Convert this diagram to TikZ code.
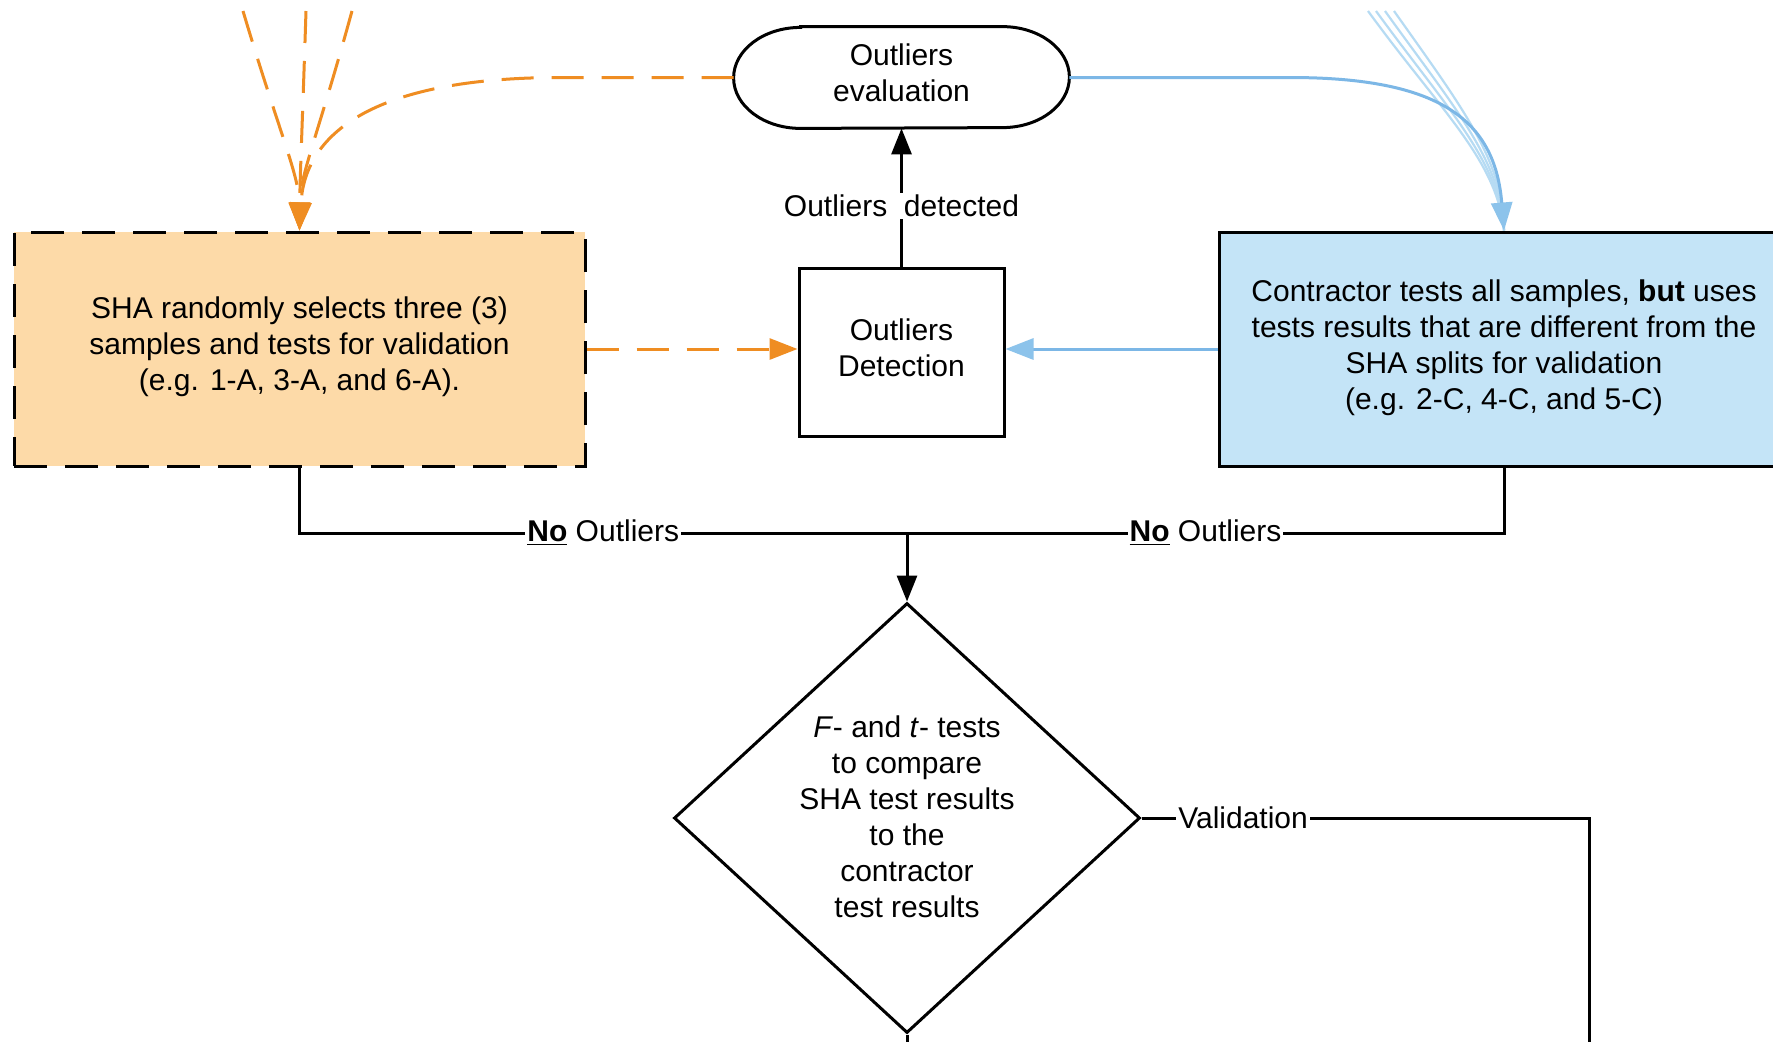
\documentclass[tikz,border=0pt]{standalone}
\usepackage{fontspec}
\setmainfont{Liberation Sans}
\usetikzlibrary{arrows.meta,shapes.geometric,calc}
\definecolor{orline}{RGB}{239,141,34}
\definecolor{orfill}{RGB}{253,218,168}
\definecolor{blfill}{RGB}{196,228,247}
\definecolor{blline}{RGB}{124,183,230}
\definecolor{bltip}{RGB}{140,195,235}
\definecolor{bllight}{RGB}{182,219,243}
\begin{document}
\begin{tikzpicture}[x=0.5pt,y=-0.5pt,
  font=\fontsize{15pt}{18pt}\selectfont,
  box/.style={draw=black, line width=1.5pt, align=center, inner sep=0pt},
  blk/.style={draw=black, line width=1.5pt},
  tip/.style={-{Triangle[length=13pt,width=10pt]}},
  otip/.style={-{Triangle[length=14pt,width=10.5pt,fill=orline]}},
  btip/.style={-{Triangle[length=14pt,width=10.5pt,color=bltip,fill=bltip]}},
  odash/.style={draw=orline, line width=1.5pt, dash pattern=on 16pt off 9pt},
  bline/.style={draw=blline, line width=1.5pt},
  blight/.style={draw=bllight, line width=1.1pt},
  lbl/.style={fill=white, inner sep=1pt, text=black}]
\useasboundingbox (0,0) rectangle (1773,1041);
\clip (0,0) rectangle (1773,1041);
\fill[white] (0,0) rectangle (1773,1041);

% nodes
\node[box, dash pattern=on 16.5pt off 9pt, fill=orfill, minimum width=285.5pt, minimum height=117pt, text depth=5.5pt] (sha) at (299.5,349)
  {SHA randomly selects three (3)\\samples and tests for validation\\(e.g. 1-A, 3-A, and 6-A).};
\node[box, fill=blfill, minimum width=285pt, minimum height=117pt, text depth=4.2pt] (con) at (1504,349)
  {Contractor tests all samples, \textbf{but} uses\\tests results that are different from the\\SHA splits for validation\\(e.g. 2-C, 4-C, and 5-C)};
\node[box, minimum width=102.5pt, minimum height=84pt, text depth=4.5pt] (det) at (901.5,352) {Outliers\\Detection};
\node[minimum width=167.5pt, minimum height=50.5pt, inner sep=0pt, align=center, text depth=4.5pt] (ev) at (901.5,77.5) {Outliers\\evaluation};
\draw[blk] ($(ev.north west)+(67,0)$) -- ($(ev.north east)+(-67,0)$)
  arc[start angle=90,end angle=-90,x radius=33.5pt,y radius=25.25pt]
  -- ($(ev.south west)+(67,0)$)
  arc[start angle=270,end angle=90,x radius=33.5pt,y radius=25.25pt] -- cycle;
\node[blk, diamond, minimum width=233pt, minimum height=215pt, inner sep=0pt, align=center, text depth=1pt] (dia) at (907,818)
  {\textit{F}- and \textit{t}- tests\\to compare\\SHA test results\\to the\\contractor\\test results};

% free ends
\coordinate (o1) at (243,11);
\coordinate (o2) at (306,11);
\coordinate (o3) at (352,11);
\coordinate (b1) at (1368,11);
\coordinate (b2) at (1376,11);
\coordinate (b3) at (1385,11);
\coordinate (b4) at (1394,11);
\coordinate (jn) at (907,533);
\coordinate (vc) at (1589,818);
\coordinate (vb) at (1589,1060);
\coordinate (db) at (907,1060);

% orange dashed connectors
\draw[odash, otip] (o1) .. controls (280,135) and (299,175) .. (sha.north);
\draw[odash, otip] (o2) .. controls (302,135) and (300,175) .. (sha.north);
\draw[odash, otip] (o3) .. controls (318,135) and (300,175) .. (sha.north);
\draw[odash, otip] (ev.west) -- (560,77.5) .. controls (380,77.5) and (305,130) .. (sha.north);
\draw[odash, otip] (sha.east) -- (sha.east -| det.west);

% blue connectors
\draw[blight] (b1) .. controls (1440,110) and (1497,160) .. (con.north);
\draw[blight] (b2) .. controls (1448,110) and (1499,160) .. (con.north);
\draw[blight] (b3) .. controls (1456,110) and (1501,160) .. (con.north);
\draw[blight] (b4) .. controls (1464,110) and (1503,160) .. (con.north);
\draw[bline, btip] (ev.east) -- (1290,77.5) .. controls (1440,77.5) and (1495,120) .. (con.north);
\draw[bline, btip] (con.west) -- (con.west -| det.east);

% black connectors
\draw[blk, tip] (det.north) -- node[lbl, pos=0.44]{Outliers\ \ detected} (ev.south);
\draw[blk] (sha.south) |- node[lbl, pos=0.75]{\underline{\textbf{No}} Outliers} (jn);
\draw[blk] (con.south) |- node[lbl, pos=0.75]{\underline{\textbf{No}} Outliers} (jn);
\draw[blk, tip] (jn) -- (dia.north);
\draw[blk] (dia.east) -- node[lbl, pos=0.227]{Validation} (vc) -- (vb);
\draw[blk] (dia.south) -- (db);
\end{tikzpicture}
\end{document}
